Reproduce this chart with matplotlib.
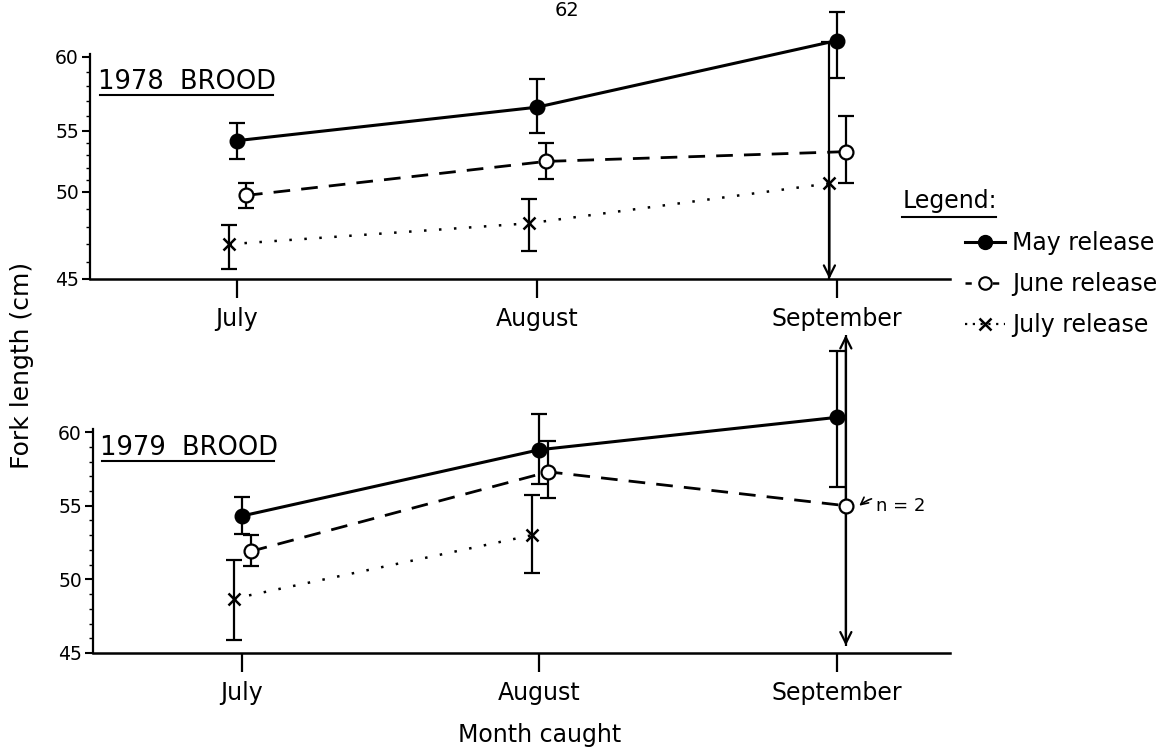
import numpy as np
import matplotlib
matplotlib.use("Agg")
import matplotlib.pyplot as plt
from matplotlib.lines import Line2D

# ---------------- data ----------------
months = ["July", "August", "September"]
series_names = ["May release", "June release", "July release"]

# 1978 brood (fork length, cm)
may78 = [54.2, 56.6, 61.1]
may78_lo = [52.7, 54.8, 58.6]
may78_hi = [55.5, 58.5, 63.0]
jun78 = [49.8, 52.5, 53.3]
jun78_lo = [49.1, 51.1, 50.7]
jun78_hi = [50.7, 54.0, 56.0]
jul78 = [47.0, 48.2, 50.7]
jul78_lo = [45.6, 46.6, 45.0]
jul78_hi = [48.1, 49.6, 61.0]
jul78_lo_open = [False, False, True]

# 1979 brood
may79 = [54.3, 58.8, 61.0]
may79_lo = [53.1, 56.5, 56.3]
may79_hi = [55.6, 61.2, 65.5]
jun79 = [51.9, 57.3, 55.0]
jun79_lo = [50.9, 55.5, 45.5]
jun79_hi = [53.0, 59.4, 66.6]
jun79_open = [False, False, True]
jul79 = [48.7, 53.0, np.nan]
jul79_lo = [45.9, 50.4, np.nan]
jul79_hi = [51.3, 55.7, np.nan]

yticks = [45, 50, 55, 60]
n_note = "n = 2"

# ---------------- figure ----------------
W, H = 1175, 753
fig = plt.figure(figsize=(W / 100, H / 100), dpi=100)
plt.rcParams["font.family"] = ["DejaVu Sans"]


def rect(left, top, right, bottom):
    return [left / W, 1 - bottom / H, (right - left) / W, (bottom - top) / H]


ax1 = fig.add_axes(rect(90, 5, 950, 279))
ax2 = fig.add_axes(rect(93, 330, 950, 653))

# hand-drawn (uneven) y axis of the upper panel
kv = np.array([40.0, 45.0, 50.0, 55.0, 60.0, 70.0])
kh = np.array([-87.0, 0.0, 87.0, 148.0, 222.0, 370.0])


def fwd(v):
    return np.interp(v, kv, kh)


def inv(h):
    return np.interp(h, kh, kv)


ax1.set_yscale("function", functions=(fwd, inv))
ax1.set_ylim(45, 63.5)
ax1.set_xlim(-0.49, 2.377)
ax2.set_ylim(45, 66.93)
ax2.set_xlim(-0.5, 2.38)

OFF = {"may": 0.0, "jun": 0.03, "jul": -0.025}
LW_ERR = 1.6
x_idx = np.arange(len(months))


def errbars(ax, xs, ys, lo, hi, lo_open=None, hi_open=None):
    n = len(ys)
    lo_open = lo_open or [False] * n
    hi_open = hi_open or [False] * n
    for x, y, l, h, ol, oh in zip(xs, ys, lo, hi, lo_open, hi_open):
        if np.isnan(y):
            continue
        ax.plot([x, x], [l, h], color="k", lw=LW_ERR, solid_capstyle="butt", zorder=2)
        for end, is_open in ((l, ol), (h, oh)):
            if is_open:
                ax.annotate("", xy=(x, end), xytext=(x, y),
                            arrowprops=dict(arrowstyle="->", lw=LW_ERR, color="k",
                                            mutation_scale=20, shrinkA=0, shrinkB=0),
                            zorder=2)
            else:
                ax.plot([x], [end], marker="_", ms=11, mew=LW_ERR, color="k", zorder=2)


def series(ax, key, ys):
    xs = x_idx + OFF[key]
    if key == "may":
        ax.plot(xs, ys, color="k", lw=2.2, marker="o", ms=10.5, mfc="k", mec="k", zorder=4)
    elif key == "jun":
        ax.plot(xs, ys, color="k", lw=2.0, dashes=(6, 4), marker="o", ms=10,
                mfc="white", mec="k", mew=1.6, zorder=4)
    else:
        ax.plot(xs, ys, color="k", lw=1.8, dashes=(1, 5), marker="x", ms=9,
                mec="k", mew=1.8, zorder=4)
    return xs


# upper panel
errbars(ax1, x_idx + OFF["may"], may78, may78_lo, may78_hi)
errbars(ax1, x_idx + OFF["jun"], jun78, jun78_lo, jun78_hi)
errbars(ax1, x_idx + OFF["jul"], jul78, jul78_lo, jul78_hi, lo_open=jul78_lo_open)
series(ax1, "may", may78)
series(ax1, "jun", jun78)
series(ax1, "jul", jul78)

# lower panel
errbars(ax2, x_idx + OFF["may"], may79, may79_lo, may79_hi)
errbars(ax2, x_idx + OFF["jun"], jun79, jun79_lo, jun79_hi, lo_open=jun79_open, hi_open=jun79_open)
errbars(ax2, x_idx + OFF["jul"], jul79, jul79_lo, jul79_hi)
series(ax2, "may", may79)
series(ax2, "jun", jun79)
series(ax2, "jul", jul79)

ax2.annotate(n_note, xy=(2 + OFF["jun"] + 0.045, jun79[2]), xytext=(2.13, jun79[2]),
             va="center", ha="left", fontsize=13,
             arrowprops=dict(arrowstyle="->", lw=1.2, color="k",
                             connectionstyle="arc3,rad=0.4", shrinkA=1, shrinkB=0))

for ax in (ax1, ax2):
    for s in ("top", "right"):
        ax.spines[s].set_visible(False)
    ax.spines["left"].set_linewidth(1.6)
    ax.spines["bottom"].set_linewidth(1.8)
    ax.spines["left"].set_bounds(45, 60.2)
    ax.set_yticks(yticks)
    ax.set_yticklabels([str(t) for t in yticks])
    ax.set_yticks(np.arange(45, 61, 1), minor=True)
    ax.set_xticks(x_idx)
    ax.set_xticklabels(months)
    ax.tick_params(axis="x", direction="out", length=14, width=1.6, pad=6, labelsize=17)
    ax.tick_params(axis="y", which="major", direction="out", length=6, width=1.5,
                   pad=2, labelsize=13.5)
    ax.tick_params(axis="y", which="minor", direction="out", length=3, width=1.0)
    ax.patch.set_alpha(0)

# panel titles with underline
fig.text(98 / W, 1 - 89 / H, "1978  BROOD", fontsize=18.5, va="baseline", ha="left")
fig.add_artist(Line2D([100 / W, 273 / W], [1 - 95 / H, 1 - 95 / H], color="k", lw=1.5))
fig.text(100 / W, 1 - 455 / H, "1979  BROOD", fontsize=18.5, va="baseline", ha="left")
fig.add_artist(Line2D([102 / W, 274 / W], [1 - 461 / H, 1 - 461 / H], color="k", lw=1.5))

# axis labels
fig.text(22 / W, 1 - 365 / H, "Fork length (cm)", rotation=90, fontsize=18,
         ha="center", va="center")
fig.text(540 / W, 1 - 735 / H, "Month caught", fontsize=17, ha="center", va="center")

# page number at the top edge
fig.text(567 / W, 1 - 1 / H, "62", fontsize=14, ha="center", va="top")

# legend
fig.text(903 / W, 1 - 208 / H, "Legend:", fontsize=17, va="baseline", ha="left")
fig.add_artist(Line2D([902 / W, 996 / W], [1 - 217 / H, 1 - 217 / H], color="k", lw=1.5))
handles = [
    Line2D([], [], color="k", lw=2.2, marker="o", ms=10, mfc="k"),
    Line2D([], [], color="k", lw=1.8, dashes=(2.5, 3), marker="o", ms=9, mfc="white", mew=1.5),
    Line2D([], [], color="k", lw=1.6, dashes=(1, 2.5), marker="x", ms=9, mew=1.8),
]
fig.legend(handles, series_names, loc="upper left", bbox_to_anchor=(965 / W, 1 - 231 / H),
           frameon=False, fontsize=17, handlelength=1.7, handletextpad=0.3,
           labelspacing=0.72, borderpad=0, borderaxespad=0)

fig.savefig("out.png", dpi=100)
